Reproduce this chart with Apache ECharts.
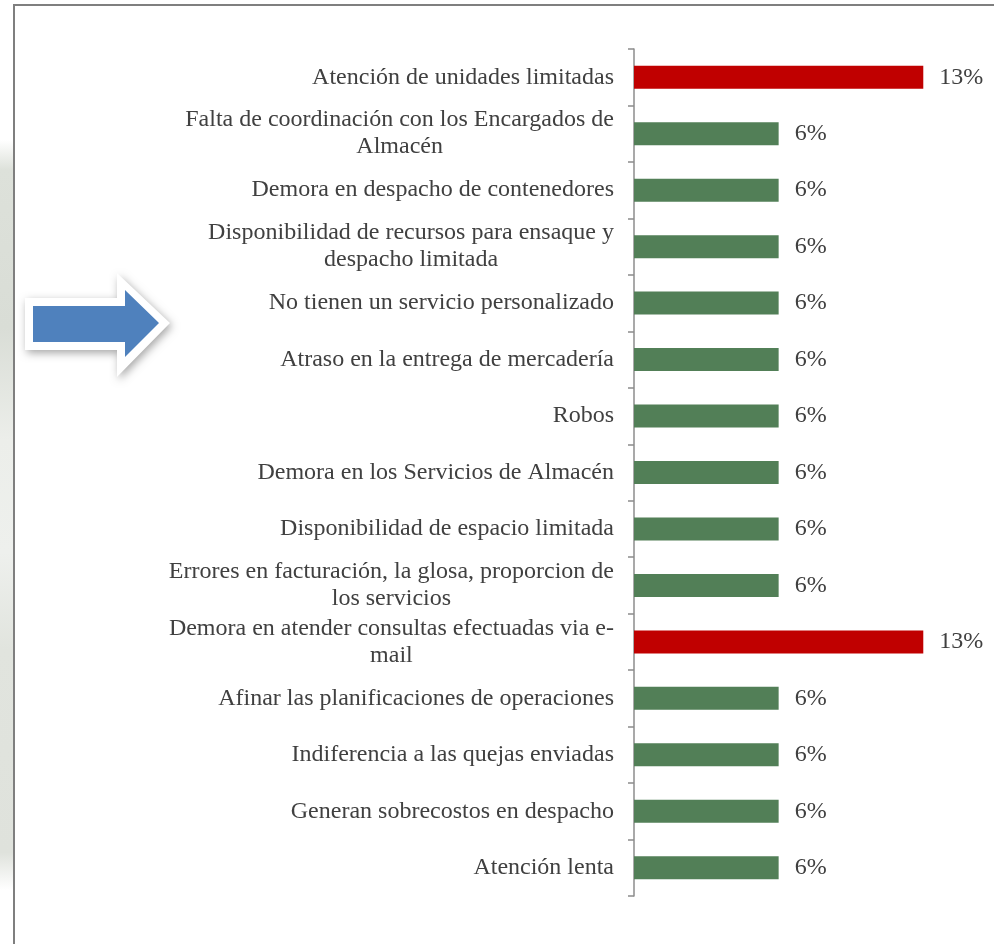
<!DOCTYPE html>
<html>
<head>
<meta charset="utf-8">
<script src="https://cdn.jsdelivr.net/npm/echarts@6/dist/echarts.min.js"></script>
<style>
  html, body { margin: 0; padding: 0; background: #ffffff; }
  #chart { width: 994px; height: 944px; }
</style>
</head>
<body>
<div id="chart"></div>
<script>
// Problem categories, top to bottom
const categories = [
  'Atención de unidades limitadas',
  'Falta de coordinación con los Encargados de\nAlmacén',
  'Demora en despacho de contenedores',
  'Disponibilidad de recursos para ensaque y\ndespacho limitada',
  'No tienen un servicio personalizado',
  'Atraso en la entrega de mercadería',
  'Robos',
  'Demora en los Servicios de Almacén',
  'Disponibilidad de espacio limitada',
  'Errores en facturación, la glosa, proporcion de\nlos servicios',
  'Demora en atender consultas efectuadas via e-\nmail',
  'Afinar las planificaciones de operaciones',
  'Indiferencia a las quejas enviadas',
  'Generan sobrecostos en despacho',
  'Atención lenta'
];

// Share of responses (%), one per category
const shares = [12.5, 6.25, 6.25, 6.25, 6.25, 6.25, 6.25, 6.25, 6.25, 6.25, 12.5, 6.25, 6.25, 6.25, 6.25];

const FONT = '"Liberation Serif", "Times New Roman", serif';
const TEXT = '#404040';
const RED = '#C00000';
const GREEN = '#527F57';

const chart = echarts.init(document.getElementById('chart'), null, { renderer: 'canvas' });

chart.setOption({
  backgroundColor: '#ffffff',
  animation: false,
  grid: { left: 634, right: 36, top: 49, bottom: 48, containLabel: false },
  xAxis: {
    type: 'value',
    min: 0,
    max: 14,
    show: false
  },
  yAxis: {
    type: 'category',
    inverse: true,
    data: categories,
    axisLine: { show: true, lineStyle: { color: '#8c8c8c', width: 1.5 } },
    axisTick: { show: true, length: 6, lineStyle: { color: '#8c8c8c', width: 1.5 } },
    splitLine: { show: false },
    axisLabel: {
      margin: 20,
      align: 'right',
      color: TEXT,
      fontFamily: FONT,
      fontSize: 24,
      lineHeight: 27,
      formatter: function (value) {
        return value.split('\n').map(function (line) { return '{c|' + line + '}'; }).join('\n');
      },
      rich: {
        c: { align: 'center', color: TEXT, fontFamily: FONT, fontSize: 24, lineHeight: 27 }
      }
    }
  },
  series: [{
    type: 'bar',
    data: shares.map(function (v) {
      return { value: v, itemStyle: { color: v > 10 ? RED : GREEN } };
    }),
    barWidth: 23,
    label: {
      show: true,
      position: 'right',
      distance: 16,
      color: TEXT,
      fontFamily: FONT,
      fontSize: 24,
      formatter: function (p) { return Math.round(p.value) + '%'; }
    }
  }],
  graphic: [
    // faint backdrop strip left of the frame
    {
      type: 'rect', silent: true, z: -10,
      shape: { x: 0, y: 140, width: 13, height: 750 },
      style: {
        fill: {
          type: 'linear', x: 0, y: 0, x2: 0, y2: 1,
          colorStops: [
            { offset: 0, color: '#ffffff' },
            { offset: 0.04, color: '#dde1da' },
            { offset: 0.25, color: '#d9ddd6' },
            { offset: 0.4, color: '#eceeea' },
            { offset: 0.55, color: '#eef0ed' },
            { offset: 0.68, color: '#e1e4de' },
            { offset: 0.95, color: '#dfe2dc' },
            { offset: 1, color: '#ffffff' }
          ]
        }
      }
    },
    // frame
    {
      type: 'rect', silent: true, z: 10,
      shape: { x: 14, y: 5, width: 1000, height: 1000 },
      style: { fill: 'none', stroke: '#7f7f7f', lineWidth: 2 }
    },
    // arrow: white outline with shadow, then blue body
    {
      type: 'polygon', silent: true, z: 5,
      shape: { points: [[25, 298], [117, 298], [117, 273], [170, 323], [117, 377], [117, 350], [25, 350]] },
      style: { fill: '#ffffff', shadowBlur: 8, shadowColor: 'rgba(0,0,0,0.35)', shadowOffsetX: 2, shadowOffsetY: 3 }
    },
    {
      type: 'polygon', silent: true, z: 6,
      shape: { points: [[33, 306], [125, 306], [125, 290], [159, 323], [125, 357], [125, 342], [33, 342]] },
      style: { fill: '#4F81BD' }
    }
  ]
});
</script>
</body>
</html>
